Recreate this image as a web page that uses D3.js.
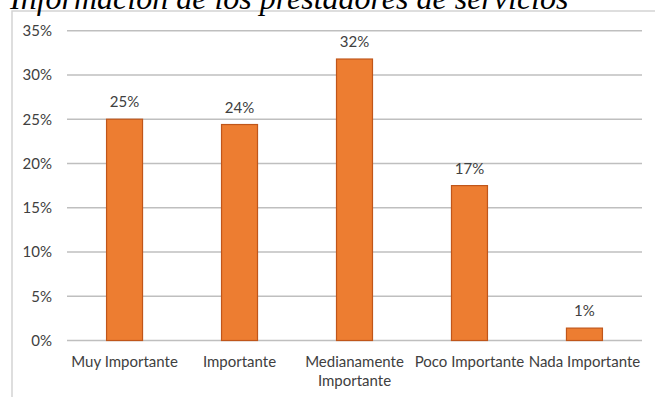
<!DOCTYPE html>
<html>
<head>
<meta charset="utf-8">
<script src="https://cdn.jsdelivr.net/npm/d3@7"></script>
<style>
  body { margin: 0; background: #fff; }
  svg { display: block; }
</style>
</head>
<body>
<div id="chart"></div>
<script>
// Bar chart: importance ratings (percent of respondents)

let svgWidth = 655;
let svgHeight = 397;

// chart data
let categories = ['Muy Importante', 'Importante', 'Medianamente Importante', 'Poco Importante', 'Nada Importante'];
let values = [25.0, 24.4, 31.8, 17.5, 1.4];
let valueLabels = ['25%', '24%', '32%', '17%', '1%'];
let yTicks = [0, 5, 10, 15, 20, 25, 30, 35];
let titleText = 'Información de los prestadores de servicios';

// plot area inside the svg
let plot = { left: 67, right: 642, top: 30.7, bottom: 340.5 };

let svg = d3.select('#chart').append('svg')
  .attr('width', svgWidth)
  .attr('height', svgHeight);

// outer chart frame (partly cut off by the picture edge)
svg.append('rect')
  .attr('x', 12)
  .attr('y', 11)
  .attr('width', 660)
  .attr('height', 420)
  .attr('fill', 'none')
  .attr('stroke', '#d4d4d4')
  .attr('stroke-width', 1.5);

// title sits above the frame, clipped at the top
svg.append('text')
  .attr('x', 10)
  .attr('y', 8.5)
  .attr('font-family', '"Liberation Serif", "Times New Roman", serif')
  .attr('font-style', 'italic')
  .attr('font-size', '32px')
  .attr('fill', '#000')
  .text(titleText);

let xScale = d3.scaleBand()
  .domain(categories)
  .range([plot.left, plot.right])
  .paddingInner(0.687)
  .paddingOuter(0.344);

let yScale = d3.scaleLinear()
  .domain([0, 35])
  .range([plot.bottom, plot.top]);

let fontFamily = 'Lato, "Open Sans", sans-serif';
let textColor = '#404040';

// gridlines
svg.append('g')
  .selectAll('line')
  .data(yTicks)
  .enter()
  .append('line')
  .attr('x1', plot.left)
  .attr('x2', plot.right)
  .attr('y1', d => yScale(d))
  .attr('y2', d => yScale(d))
  .attr('stroke', '#bfbfbf')
  .attr('stroke-width', 1.5);

// y axis labels
let yAxis = svg.append('g')
  .attr('transform', `translate(${plot.left}, 0)`)
  .call(d3.axisLeft(yScale).tickValues(yTicks).tickFormat(d => d + '%').tickSize(0).tickPadding(15));
yAxis.select('.domain').remove();
yAxis.selectAll('text')
  .attr('font-family', fontFamily)
  .attr('font-size', '15px')
  .attr('fill', textColor);

// bars
svg.append('g')
  .selectAll('rect')
  .data(values)
  .enter()
  .append('rect')
  .attr('x', (d, i) => xScale(categories[i]))
  .attr('y', d => yScale(d))
  .attr('width', xScale.bandwidth())
  .attr('height', d => yScale(0) - yScale(d))
  .attr('fill', '#ed7d31')
  .attr('stroke', '#c0561a')
  .attr('stroke-width', 1.2);

// value labels
svg.append('g')
  .selectAll('text')
  .data(values)
  .enter()
  .append('text')
  .attr('x', (d, i) => xScale(categories[i]) + xScale.bandwidth() / 2)
  .attr('y', d => yScale(d) - 12)
  .attr('text-anchor', 'middle')
  .attr('font-family', fontFamily)
  .attr('font-size', '15px')
  .attr('fill', textColor)
  .text((d, i) => valueLabels[i]);

// x axis labels, wrapped like the original
let xAxis = svg.append('g')
  .attr('transform', `translate(0, ${plot.bottom})`)
  .call(d3.axisBottom(xScale).tickSize(0).tickPadding(0));
xAxis.select('.domain').remove();
xAxis.selectAll('text').remove();
xAxis.selectAll('.tick').each(function(d) {
  let lines = d === 'Medianamente Importante' ? ['Medianamente', 'Importante'] : [d];
  let t = d3.select(this).append('text')
    .attr('text-anchor', 'middle')
    .attr('font-family', fontFamily)
    .attr('font-size', '15px')
    .attr('fill', textColor);
  lines.forEach((s, k) => {
    t.append('tspan').attr('x', 0).attr('y', 26 + k * 19).text(s);
  });
});
</script>
</body>
</html>
